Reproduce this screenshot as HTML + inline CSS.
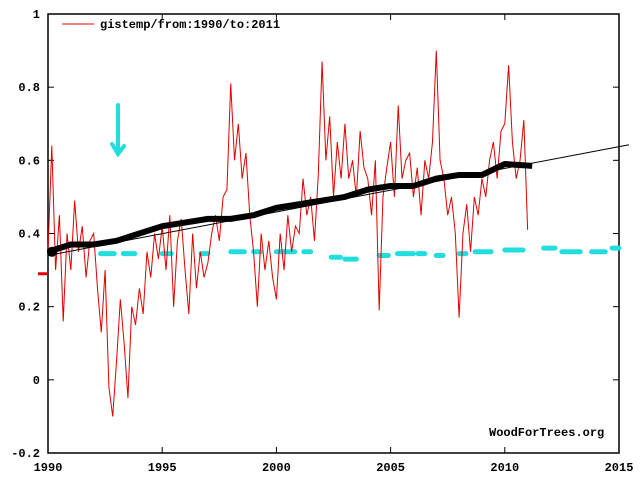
<!DOCTYPE html>
<html><head><meta charset="utf-8"><style>
body{margin:0;background:#fff}
svg{display:block}
text{font-family:"Liberation Mono",monospace;font-weight:bold;font-size:12px;fill:#000}
</style></head><body>
<svg width="640" height="480" xmlns="http://www.w3.org/2000/svg">
<g id="g"></g>
</svg>
<script>
const xTicks=[1990,1995,2000,2005,2010,2015];
const yTicks=[-0.2,0,0.2,0.4,0.6,0.8,1];
const yTickLabels=["-0.2","0","0.2","0.4","0.6","0.8","1"];
const redValues=[.35,.64,.30,.45,.16,.40, .30,.49,.35,.42,.28,.38, .40,.25,.13,.30,-.02,-.10,
.05,.22,.10,-.05,.20,.15, .25,.18,.35,.28,.40,.33, .42,.30,.45,.20,.38,.44,
.30,.18,.40,.25,.35,.28, .32,.40,.45,.38,.50,.52, .81,.60,.70,.55,.62,.45,
.35,.20,.40,.30,.38,.28, .22,.40,.30,.45,.35,.42, .40,.55,.45,.50,.38,.56,
.87,.60,.72,.50,.65,.55, .70,.55,.60,.50,.68,.58, .55,.45,.60,.19,.50,.58,
.65,.50,.75,.55,.60,.62, .50,.58,.45,.60,.55,.65, .90,.60,.55,.45,.50,.40,
.17,.40,.48,.35,.50,.45, .55,.50,.60,.65,.55,.68, .70,.86,.65,.55,.60,.71, .41];
const meanYears=[1990,1991,1992,1993,1994,1995,1996,1997,1998,1999,2000,2001,2002,2003,2004,2005,2006,2007,2008,2009,2010,2011.2];
const meanValues=[.35,.37,.37,.38,.40,.42,.43,.44,.44,.45,.47,.48,.49,.50,.52,.53,.53,.55,.56,.56,.59,.585];
const trendYears=[1990,2015];
const trendValues=[0.34,0.64];
const cyanStarts=[1992.3,1993.3,1995.0,1996.7,1998.0,1999.0,2000.0,2001.2,2002.4,2003.0,2004.5,2005.3,2006.2,2007.0,2008.0,2008.7,2010.0,2011.7,2012.5,2013.8,2014.7];
const cyanEnds=[1992.9,1993.8,1995.4,1997.0,1998.6,1999.3,2000.8,2001.5,2002.8,2003.5,2004.9,2006.0,2006.5,2007.3,2008.3,2009.4,2010.8,2012.2,2013.3,2014.4,2015.0];
const cyanValues=[.345,.345,.345,.345,.35,.35,.35,.35,.335,.33,.34,.345,.345,.34,.345,.35,.355,.36,.35,.35,.36];
const L=48,R=619,T=14,B=453;
const xs=v=>L+(v-1990)*(R-L)/25;
const ys=v=>B-(v+0.2)*(B-T)/1.2;
const g=document.getElementById('g');const NS="http://www.w3.org/2000/svg";
function mk(t,a){const e=document.createElementNS(NS,t);for(const k in a)e.setAttribute(k,a[k]);g.appendChild(e);return e;}
let e=mk('rect',{x:L,y:T,width:R-L,height:B-T,fill:'none',stroke:'#000','stroke-width':1.5});


xTicks.forEach(v=>{mk('line',{x1:xs(v),x2:xs(v),y1:B,y2:B-6,stroke:'#000'});mk('line',{x1:xs(v),x2:xs(v),y1:T,y2:T+6,stroke:'#000'});
let t=mk('text',{x:xs(v),y:B+18,'text-anchor':'middle'});t.textContent=v;

});
yTicks.forEach((v,i)=>{mk('line',{x1:L,x2:L+6,y1:ys(v),y2:ys(v),stroke:'#000'});mk('line',{x1:R,x2:R-6,y1:ys(v),y2:ys(v),stroke:'#000'});
let t=mk('text',{x:L-8,y:ys(v)+4,'text-anchor':'end'});t.textContent=yTickLabels[i];

});
// cyan dashes
cyanStarts.forEach((s,i)=>{let c=mk('line',{x1:xs(s),x2:xs(cyanEnds[i]),y1:ys(cyanValues[i]),y2:ys(cyanValues[i]),stroke:'#22dddd','stroke-width':5,'stroke-linecap':'round'});

});
// red
let p=redValues.map((v,i)=>xs(1990+i/6)+','+ys(v)).join(' ');
e=mk('polyline',{points:p,fill:'none',stroke:'#e00000','stroke-width':1});


// mean
p=meanYears.map((y,i)=>xs(y)+','+ys(meanValues[i])).join(' ');
e=mk('polyline',{points:p,fill:'none',stroke:'#000','stroke-width':6,'stroke-linejoin':'round'});


e=mk('circle',{cx:xs(meanYears[0])+4,cy:ys(meanValues[0]),r:5,fill:'#000'});


e=mk('line',{x1:xs(trendYears[0]),y1:ys(trendValues[0]),x2:xs(trendYears[1])+10,y2:ys(trendValues[1])-1,stroke:'#000','stroke-width':1});


// red marker
e=mk('line',{x1:38,x2:48,y1:ys(0.29),y2:ys(0.29),stroke:'#e00000','stroke-width':3});


// arrow
e=mk('path',{d:'M118 105 L118 152 M112 144 L118 154 L124 146',fill:'none',stroke:'#22dddd','stroke-width':4,'stroke-linecap':'round'});


// legend
mk('line',{x1:62,x2:94,y1:24,y2:24,stroke:'#e00000'});
e=mk('text',{x:100,y:28});e.textContent='gistemp/from:1990/to:2011';


e=mk('text',{x:489,y:436});e.textContent='WoodForTrees.org';


</script>
</body></html>
